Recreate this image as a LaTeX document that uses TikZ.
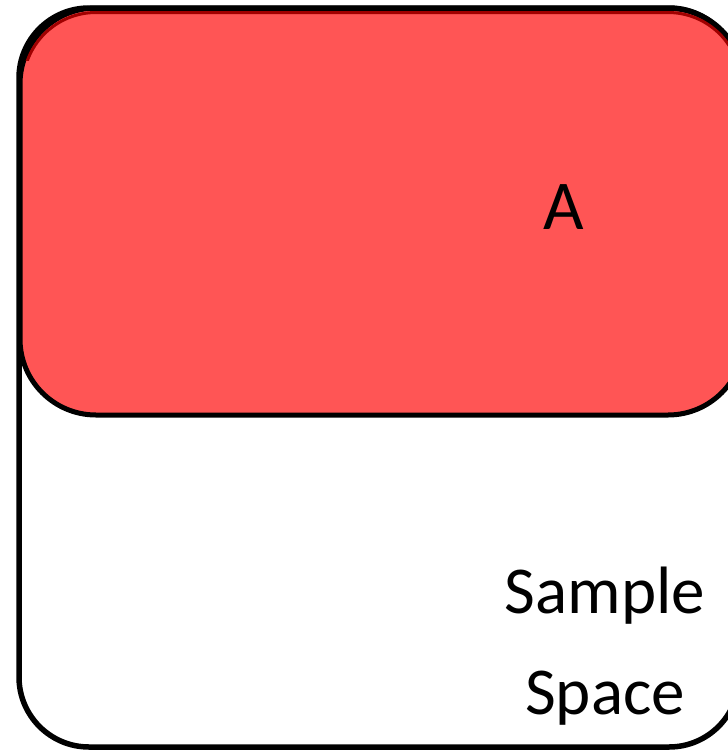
\documentclass[tikz,border=0pt]{standalone}
\usepackage{fontspec}
\setmainfont{Carlito}
\begin{document}
\begin{tikzpicture}[x=1pt,y=-1pt,
  frame/.style={draw=black,line width=5.5pt,rounded corners=70pt},
  eventA/.style={fill={rgb,255:red,255;green,85;blue,85},draw=black,line width=5pt,rounded corners=76pt},
  rim/.style={draw={rgb,255:red,160;green,0;blue,0},line width=3pt,rounded corners=73pt},
  label/.style={inner sep=0pt,text=black}]
\useasboundingbox (0,0) rectangle (728,750);
\clip (0,0) rectangle (728,750);
% event A
\path[eventA] (20,8) rectangle (744,415);
% sample space
\draw[frame] (19,8) rectangle (739,747);
% darker rim just inside the top edge
\begin{scope}
  \clip (0,0) rectangle (728,60);
  \draw[rim] (23,12.5) rectangle (741,412);
\end{scope}
\node[label,font=\fontsize{70}{84}\selectfont,anchor=base] (a) at (564,229) {A};
\node[label,font=\fontsize{67}{101}\selectfont,align=center,anchor=base] (s) at (605,714) {Sample\\Space};
\end{tikzpicture}
\end{document}
